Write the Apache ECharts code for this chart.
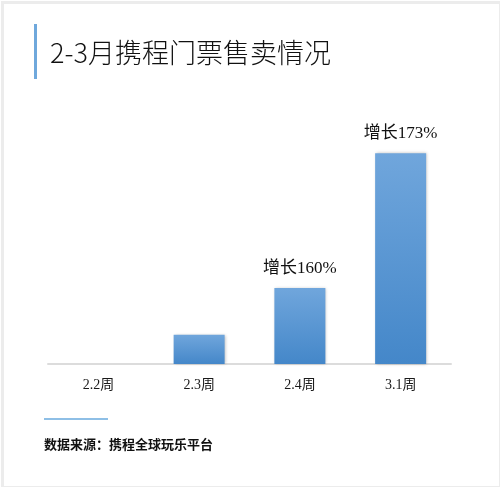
<!DOCTYPE html>
<html>
<head>
<meta charset="utf-8">
<style>
  html, body { margin: 0; padding: 0; background: #fff; }
  #main { width: 500px; height: 487px; }
</style>
</head>
<body>
<div id="main"></div>
<script src="https://cdn.jsdelivr.net/npm/echarts@6/dist/echarts.min.js"></script>
<script type="text/javascript">
    // 周次
    var weeks = ['2.2周', '2.3周', '2.4周', '3.1周'];
    // 售卖指数（按图中柱高读出，相对值）
    var sales = [0, 1.0, 2.6, 7.2];
    // 柱顶标注
    var growthLabels = ['', '', '增长160%', '增长173%'];

    var chart = echarts.init(document.getElementById('main'));
    var cjk = "'Noto Sans CJK SC', sans-serif";
    var serif = "'Liberation Serif', 'Noto Sans CJK SC', serif";

    var option = {
        backgroundColor: '#fff',
        animation: false,
        grid: { left: 48, right: 49, top: 124, bottom: 123 },
        xAxis: {
            type: 'category',
            data: weeks,
            axisLine: { lineStyle: { color: '#dcdcdc', width: 2 } },
            axisTick: { show: false },
            axisLabel: { color: '#1a1a1a', fontSize: 14, fontFamily: serif, margin: 14 }
        },
        yAxis: {
            type: 'value',
            min: 0,
            max: 8.2,
            show: false,
            splitLine: { show: false }
        },
        series: [{
            type: 'bar',
            data: sales,
            barWidth: 51,
            itemStyle: {
                color: new echarts.graphic.LinearGradient(0, 0, 0, 1, [
                    { offset: 0, color: '#70a6dc' },
                    { offset: 1, color: '#4487c9' }
                ]),
                shadowColor: 'rgba(0,0,0,0.25)',
                shadowBlur: 3,
                shadowOffsetX: 1,
                shadowOffsetY: 0
            },
            label: {
                show: true,
                position: 'top',
                distance: 11,
                color: '#111',
                fontSize: 17,
                fontFamily: serif,
                formatter: function (p) { return growthLabels[p.dataIndex]; }
            }
        }],
        graphic: [
            { type: 'rect', left: 0, top: 0, silent: true,
              shape: { x: 1, y: 1, width: 498, height: 485 },
              style: { fill: 'none', stroke: '#ececec', lineWidth: 3 } },
            { type: 'rect', silent: true,
              shape: { x: 34, y: 24, width: 3, height: 55 },
              style: { fill: '#6fa8dc' } },
            { type: 'text', silent: true, x: 50, y: 53,
              style: { text: '2-3月携程门票售卖情况', fill: '#111', font: 'normal 300 27px ' + cjk, textVerticalAlign: 'middle' } },
            { type: 'rect', silent: true,
              shape: { x: 44, y: 418, width: 64, height: 2 },
              style: { fill: '#8ebfe6' } },
            { type: 'text', silent: true, x: 44, y: 444,
              style: { text: '数据来源：携程全球玩乐平台', fill: '#111', font: 'bold 13px ' + cjk, textVerticalAlign: 'middle' } }
        ]
    };
    chart.setOption(option);
</script>
</body>
</html>
